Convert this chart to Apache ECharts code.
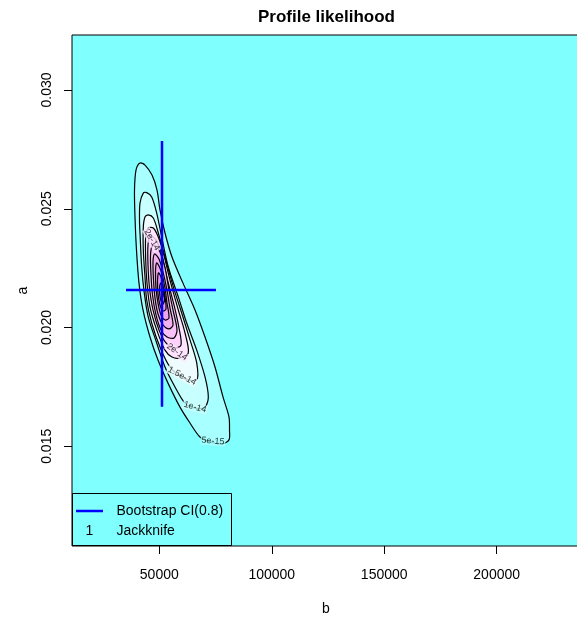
<!DOCTYPE html>
<html><head><meta charset="utf-8">
<script src="https://cdn.jsdelivr.net/npm/echarts@6/dist/echarts.min.js"></script>
<style>html,body{margin:0;padding:0;background:#fff}#c{width:577px;height:617px}</style>
</head><body><div id="c"></div>
<script>
// ---- data ----
const xTicks = [50000, 100000, 150000, 200000];
const yTicks = [0.015, 0.020, 0.025, 0.030];
const levels = ['5e-15','1e-14','1.5e-14','2e-14','2.5e-14','3e-14','3.5e-14','4e-14','4.5e-14','5e-14'];
const c5e15 = [[41420,0.02693],[39640,0.02663],[38975,0.02579],[39200,0.02465],[39860,0.02326],[40975,0.02187],[42755,0.02074],[45865,0.01960],[49420,0.01863],[53870,0.01766],[59200,0.01665],[63650,0.01598],[68095,0.01539],[72540,0.01518],[77875,0.01510],[80990,0.01527],[81210,0.01569],[80990,0.01623],[78320,0.01708],[74760,0.01834],[70320,0.01960],[65870,0.02074],[60535,0.02187],[55645,0.02297],[52535,0.02398],[50310,0.02495],[48980,0.02579],[46755,0.02642],[43640,0.02684]];
const c1e14 = [[42890,0.02566],[41420,0.02524],[41200,0.02453],[41420,0.02398],[42175,0.02255],[43330,0.02145],[45110,0.02044],[48845,0.01935],[52535,0.01834],[56980,0.01750],[61425,0.01682],[65870,0.01661],[70320,0.01665],[71790,0.01708],[70320,0.01792],[66630,0.01905],[62180,0.02019],[58445,0.02129],[54000,0.02255],[51070,0.02381],[48845,0.02482],[46620,0.02550],[44400,0.02568]];
const c15e14 = [[43640,0.02465],[42890,0.02423],[42890,0.02326],[43640,0.02213],[44400,0.02116],[46620,0.02019],[50310,0.01918],[54755,0.01834],[60535,0.01788],[66630,0.01779],[66630,0.01851],[63650,0.01948],[59960,0.02061],[56225,0.02171],[52535,0.02297],[49555,0.02398],[47330,0.02461],[45110,0.02474]];
const c2e14 = [[45110,0.02419],[43950,0.02381],[43950,0.02284],[44530,0.02187],[45865,0.02086],[48845,0.01990],[52535,0.01905],[55645,0.01876],[59200,0.01872],[62895,0.01893],[61425,0.01977],[58445,0.02074],[54755,0.02200],[51780,0.02314],[49555,0.02381],[47330,0.02419]];
const c25e14 = [[46090,0.02385],[44975,0.02347],[44975,0.02263],[45645,0.02166],[47200,0.02074],[49865,0.01990],[52980,0.01935],[56535,0.01914],[59650,0.01926],[58760,0.01998],[56535,0.02095],[53420,0.02209],[51200,0.02305],[48535,0.02369]];
const c3e14 = [[46975,0.02347],[46090,0.02305],[46310,0.02221],[46975,0.02137],[48535,0.02053],[50755,0.01990],[53420,0.01960],[56535,0.01956],[57870,0.01990],[56090,0.02074],[54310,0.02158],[52535,0.02251],[50310,0.02318],[48535,0.02343]];
const c35e14 = [[47865,0.02310],[47200,0.02276],[47420,0.02200],[48090,0.02124],[49420,0.02057],[51645,0.02011],[54310,0.01994],[56090,0.02011],[54755,0.02082],[53420,0.02158],[51645,0.02234],[49865,0.02289]];
const c4e14 = [[48755,0.02272],[48310,0.02234],[48535,0.02166],[49420,0.02103],[50755,0.02053],[52535,0.02032],[54310,0.02040],[53420,0.02103],[52535,0.02166],[51200,0.02225],[49865,0.02259]];
const c45e14 = [[49645,0.02230],[49200,0.02192],[49420,0.02141],[50310,0.02095],[51645,0.02070],[52980,0.02078],[52535,0.02129],[51645,0.02179],[50755,0.02213]];
const c5e14 = [[50535,0.02187],[50090,0.02158],[50535,0.02120],[51645,0.02099],[52310,0.02116],[51865,0.02154],[51200,0.02179]];
const contours = [c5e15, c1e14, c15e14, c2e14, c25e14, c3e14, c35e14, c4e14, c45e14, c5e14];

const estB = 51200, estA = 0.02158;        // point estimate
const ciB = [35200, 75200];                // bootstrap CI for b
const ciA = [0.01667, 0.02785];            // bootstrap CI for a
const jackB = [51700, 52200, 51500];
const jackA = [0.02140, 0.02120, 0.02150];

const labText = ['5e-15', '1e-14', '1.5e-14', '2e-14', '2e-14'];
const labB = [73875, 65870, 60090, 57870, 46755];
const labA = [0.01522, 0.01665, 0.01796, 0.01897, 0.02369];

// ---- styles ----
const fills = ['#A8FFFF','#C8FFFF','#EEFCFF','#FFE4FF','#FCD2FC','#F8C2F8','#F2B2F2','#EEA4EE','#E896E8','#E088E0'];
const labRot = [-5, -15, -28, -35, -60];
const labBg = ['#A8FFFF','#C8FFFF','#EEFCFF','#FFE4FF','#FFE4FF'];
const FONT = '"Liberation Sans", Arial, Helvetica, sans-serif';

const chart = echarts.init(document.getElementById('c'), null, {renderer: 'canvas'});
chart.setOption({
  animation: false,
  backgroundColor: '#ffffff',
  title: {
    text: 'Profile likelihood', left: 258, top: 9, padding: 0,
    textStyle: {fontFamily: FONT, fontWeight: 'bold', fontSize: 17, color: '#000'}
  },
  grid: {
    left: 72, top: 35, width: 508, height: 511,
    containLabel: false, outerBoundsMode: 'none',
    show: true, backgroundColor: '#80FFFF', borderColor: '#000', borderWidth: 1
  },
  xAxis: {
    type: 'value', min: 11186, max: 237043,
    name: 'b', nameLocation: 'middle', nameGap: 56,
    nameTextStyle: {fontFamily: FONT, fontSize: 14, color: '#000'},
    axisLine: {show: false},
    splitLine: {show: false},
    axisTick: {show: true, inside: false, length: 8, customValues: xTicks, lineStyle: {color: '#000', width: 1}},
    axisLabel: {customValues: xTicks, formatter: v => String(v), margin: 22, fontFamily: FONT, fontSize: 14, color: '#000'}
  },
  yAxis: {
    type: 'value', min: 0.010803, max: 0.032316,
    name: 'a', nameLocation: 'middle', nameGap: 42, nameRotate: 90,
    nameTextStyle: {fontFamily: FONT, fontSize: 14, color: '#000'},
    axisLine: {show: false},
    splitLine: {show: false},
    axisTick: {show: true, inside: false, length: 8, customValues: yTicks, lineStyle: {color: '#000', width: 1}},
    axisLabel: {customValues: yTicks, formatter: v => v.toFixed(3), rotate: 90, margin: 18, fontFamily: FONT, fontSize: 14, color: '#000'}
  },
  series: [
    {
      type: 'custom', name: 'likelihood', coordinateSystem: 'cartesian2d', silent: true, z: 2,
      data: contours.map((c, i) => [c[0][0], c[0][1], i]),
      encode: {x: 0, y: 1},
      renderItem: function (params, api) {
        const i = api.value(2);
        const pts = contours[i].map(p => api.coord(p));
        return {
          type: 'polygon',
          shape: {points: pts, smooth: 0.3},
          style: {fill: fills[i], stroke: '#000', lineWidth: 1.2}
        };
      }
    },
    {
      type: 'scatter', name: 'contour labels', silent: true, z: 3, symbolSize: 0,
      data: labText.map((t, i) => ({
        value: [labB[i], labA[i]],
        label: {show: true, position: 'inside', formatter: t, rotate: labRot[i], fontFamily: FONT, fontSize: 9, color: '#000', backgroundColor: labBg[i], padding: [0, 1]}
      }))
    },
    {
      type: 'scatter', name: 'Jackknife', silent: true, z: 4, symbolSize: 0,
      data: jackB.map((b, i) => [b, jackA[i]]),
      label: {show: true, position: 'inside', formatter: '1', fontFamily: FONT, fontSize: 10, color: '#000'}
    },
    {
      type: 'line', name: 'Bootstrap CI(0.8)', silent: true, z: 5, symbol: 'none',
      data: [[ciB[0], estA], [ciB[1], estA]],
      lineStyle: {color: '#0000FF', width: 2.5}
    },
    {
      type: 'line', name: 'Bootstrap CI(0.8) a', silent: true, z: 5, symbol: 'none',
      data: [[estB, ciA[0]], [estB, ciA[1]]],
      lineStyle: {color: '#0000FF', width: 2.5}
    }
  ],
  graphic: [
    {type: 'rect', z: 10, shape: {x: 72.5, y: 493.5, width: 159, height: 52}, style: {fill: 'transparent', stroke: '#000', lineWidth: 1}},
    {type: 'line', z: 10, shape: {x1: 76, y1: 511, x2: 103, y2: 511}, style: {stroke: '#0000FF', lineWidth: 2.5}},
    {type: 'text', z: 10, x: 116.5, y: 511, style: {text: 'Bootstrap CI(0.8)', font: '14px ' + FONT, fill: '#000', textVerticalAlign: 'middle', verticalAlign: 'middle'}},
    {type: 'text', z: 10, x: 89.5, y: 531.5, style: {text: '1', font: '14px ' + FONT, fill: '#000', textAlign: 'center', align: 'center', textVerticalAlign: 'middle', verticalAlign: 'middle'}},
    {type: 'text', z: 10, x: 116.5, y: 531.5, style: {text: 'Jackknife', font: '14px ' + FONT, fill: '#000', textVerticalAlign: 'middle', verticalAlign: 'middle'}}
  ]
});
</script>
</body></html>
